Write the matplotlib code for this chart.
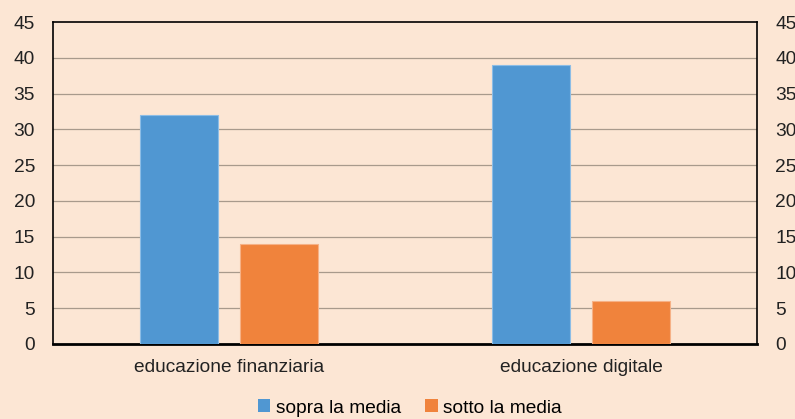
import numpy as np
import matplotlib.pyplot as plt
from matplotlib.patches import Patch

categories = ["educazione finanziaria", "educazione digitale"]
sopra = [32, 39]
sotto = [14, 6]
series_labels = ["sopra la media", "sotto la media"]
yticks = [0, 5, 10, 15, 20, 25, 30, 35, 40, 45]

bg = "#fce6d4"
blue = "#5097d2"
orange = "#f0833c"

plt.rcParams['font.family'] = ['Liberation Sans', 'DejaVu Sans']
fs = 13.8

fig = plt.figure(figsize=(7.95, 4.19), dpi=100, facecolor=bg)
ax = fig.add_axes([53 / 795, 1 - 344 / 419, 704 / 795, 322 / 419])
ax.set_facecolor(bg)

x = np.arange(len(categories))
w = 0.222
off = 0.142
ax.bar(x - off, sopra, w, color=blue, edgecolor="#8cbde6", linewidth=0.8, zorder=3)
ax.bar(x + off, sotto, w, color=orange, edgecolor="#f6b186", linewidth=0.8, zorder=3)

ax.set_xlim(-0.5, 1.5)
ax.set_ylim(0, 45)
ax.set_yticks(yticks)
ax.set_xticks(x)
ax.set_xticklabels(categories)
for t in yticks[1:-1]:
    ax.axhline(t, color="#a89a8c", linewidth=0.9, zorder=1)

for side in ["left", "top", "right"]:
    ax.spines[side].set_linewidth(1.2)
    ax.spines[side].set_color("black")
ax.spines["bottom"].set_linewidth(2.0)
ax.spines["bottom"].set_color("black")

ax.tick_params(axis="y", length=0, labelsize=fs, pad=13, colors="#222222",
               right=False, labelright=True)
ax.tick_params(axis="x", length=0, labelsize=fs, pad=11, colors="#222222")

handles = [Patch(facecolor=blue, label=series_labels[0]),
           Patch(facecolor=orange, label=series_labels[1])]
fig.legend(handles=handles, loc="center", bbox_to_anchor=(410 / 795, 1 - 408 / 419), ncol=2,
           frameon=False, fontsize=fs, handlelength=0.65, handleheight=0.65,
           handletextpad=0.3, columnspacing=1.25)

fig.savefig("out.png", dpi=100, facecolor=bg)
